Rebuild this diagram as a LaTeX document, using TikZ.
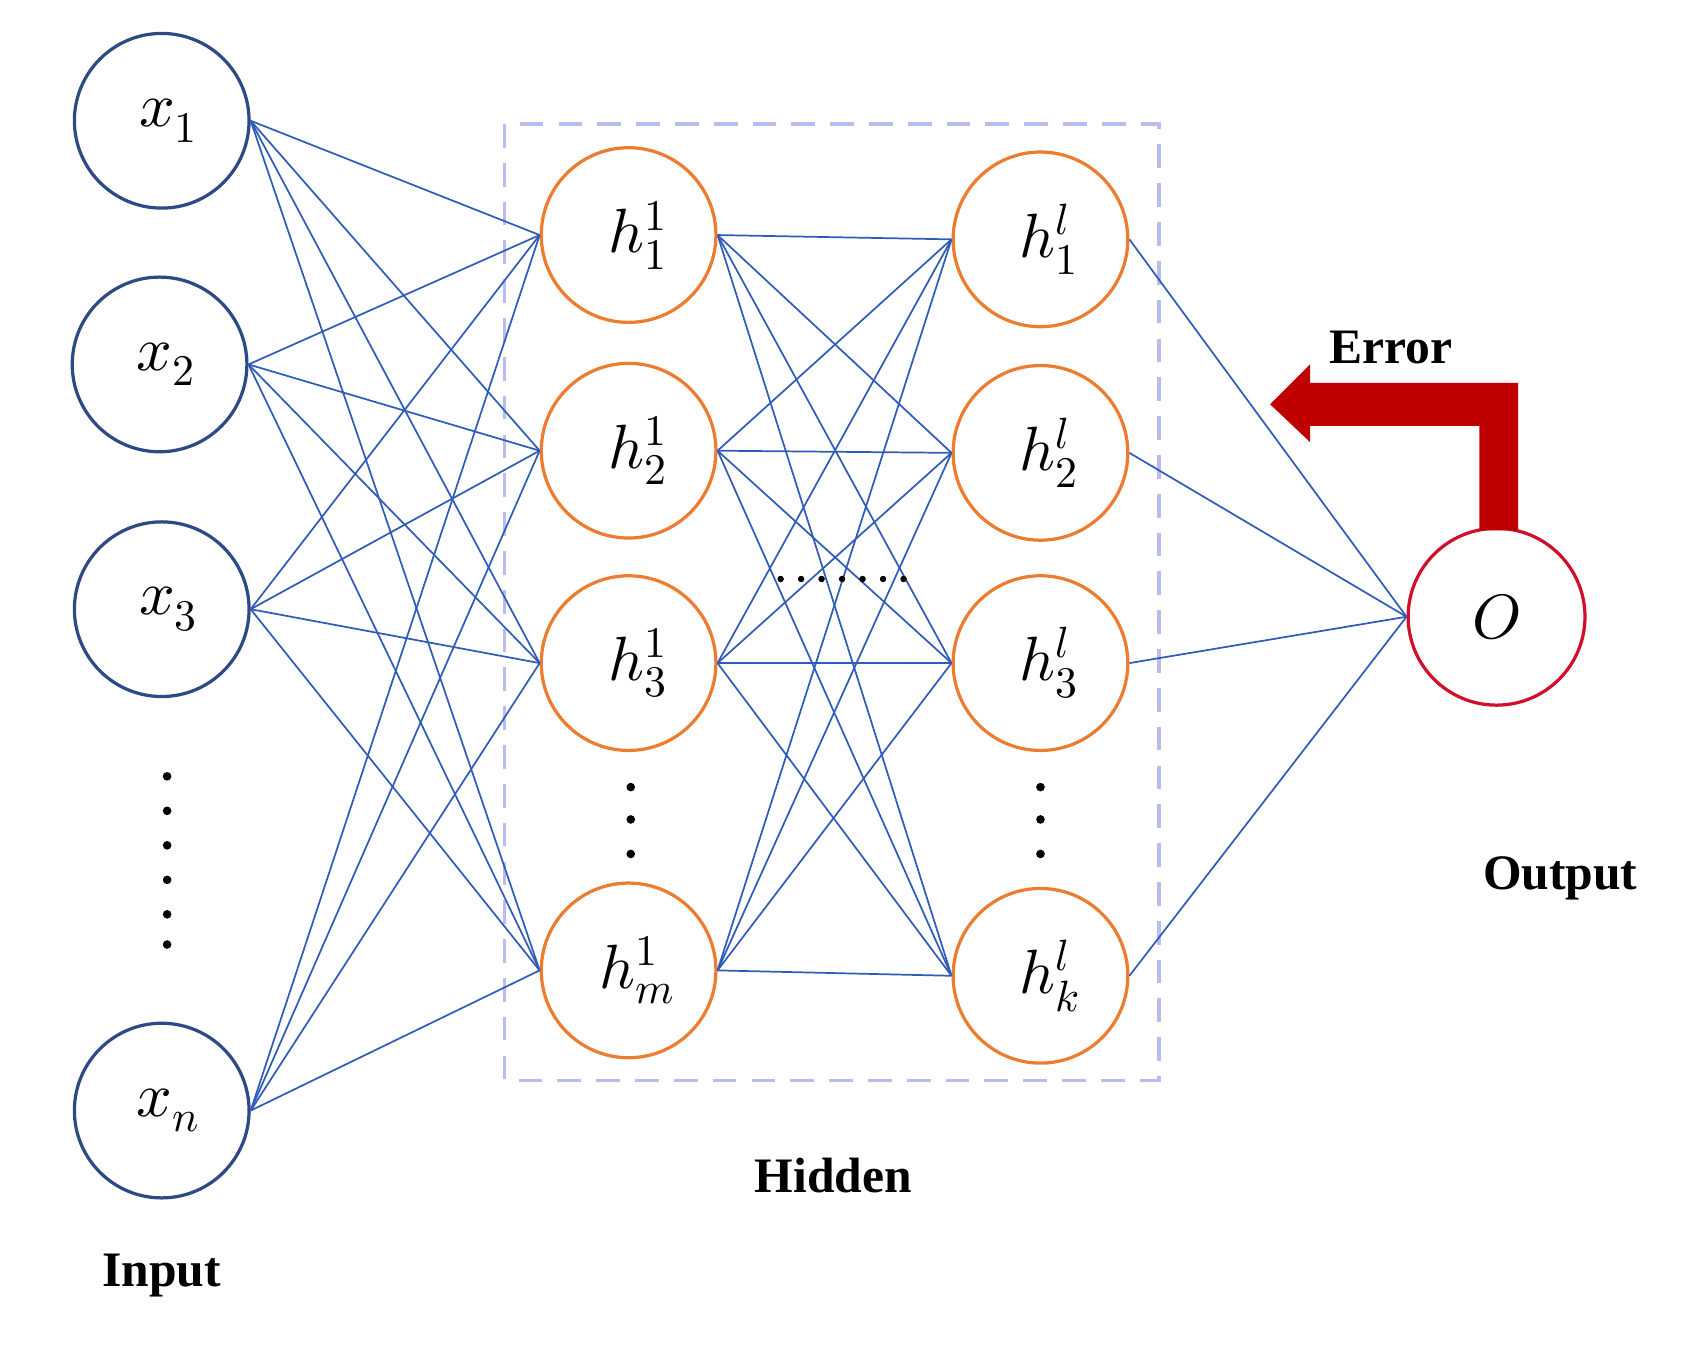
\documentclass[tikz,border=0pt]{standalone}
\usepackage{fontspec}
\usepackage{unicode-math}
\setmainfont{Liberation Serif}
\setmathfont{Latin Modern Math}
\begin{document}
\begin{tikzpicture}[x=1pt,y=-1pt,
  inp/.style={circle,draw=incol,line width=3pt,minimum size=162pt,inner sep=0pt,font=\fontsize{58}{58}\selectfont},
  hid/.style={circle,draw=hidcol,line width=3pt,minimum size=162pt,inner sep=0pt,font=\fontsize{58}{58}\selectfont},
  outn/.style={circle,draw=outcol,line width=3pt,minimum size=164pt,inner sep=0pt,font=\fontsize{58}{58}\selectfont},
  conn/.style={draw=lncol,line width=1.6pt},
  lab/.style={font=\fontsize{46}{46}\selectfont\bfseries},
  dot/.style={circle,fill=black,inner sep=0pt,minimum size=8pt}]
\definecolor{incol}{HTML}{2B4A86}
\definecolor{hidcol}{HTML}{EC7C30}
\definecolor{outcol}{HTML}{D0102A}
\definecolor{lncol}{HTML}{2F5CB8}
\definecolor{boxcol}{HTML}{B8BCF0}
\definecolor{arrcol}{HTML}{C00000}
\useasboundingbox (0,0) rectangle (1560,1256);
\draw[boxcol,line width=3pt,dash pattern=on 22pt off 14pt] (468,115) rectangle (1075,1002);
\node[inp] (x1) at (150,112) {\hspace{12pt}$x_1$};
\node[inp] (x2) at (148,338) {\hspace{12pt}$x_2$};
\node[inp] (x3) at (150,565) {\hspace{12pt}$x_3$};
\node[inp] (xn) at (150,1030) {\hspace{12pt}$x_n$};
\node[hid] (a1) at (583,218) {\hspace{16pt}$h^1_1$};
\node[hid] (a2) at (583,418) {\hspace{16pt}$h^1_2$};
\node[hid] (a3) at (583,615) {\hspace{16pt}$h^1_3$};
\node[hid] (am) at (583,900) {\hspace{16pt}$h^1_m$};
\node[hid] (b1) at (965,222) {\hspace{16pt}$h^l_1$};
\node[hid] (b2) at (965,420) {\hspace{16pt}$h^l_2$};
\node[hid] (b3) at (965,615) {\hspace{16pt}$h^l_3$};
\node[hid] (bk) at (965,905) {\hspace{16pt}$h^l_k$};
\node[outn] (o) at (1388,572) {$O$};
\foreach \i in {x1,x2,x3,xn}{\foreach \j in {a1,a2,a3,am}{\draw[conn] (\i.east) -- (\j.west);}}
\foreach \i in {a1,a2,a3,am}{\foreach \j in {b1,b2,b3,bk}{\draw[conn] (\i.east) -- (\j.west);}}
\foreach \i in {b1,b2,b3,bk}{\draw[conn] (\i.east) -- (o.west);}
\foreach \k [count=\n] in {720,752,784,816,848,876}{\node[dot] (d\n) at (155,\k) {};}
\foreach \k [count=\n] in {730,760,792}{\node[dot] (e\n) at (585,\k) {}; \node[dot] (f\n) at (965,\k) {};}
\foreach \k [count=\n] in {724,743,762,781,800,819,838}{\node[circle,fill=black,inner sep=0pt,minimum size=6pt] (g\n) at (\k,537) {};}
\fill[arrcol] (1372,492) -- (1372,395) -- (1215,395) -- (1215,410) -- (1178,375) -- (1215,338) -- (1215,355) -- (1408,355) -- (1408,492) -- cycle;
\node[lab] (err) at (1290,322) {Error};
\node[lab] (outl) at (1447,815) {Output};
\node[lab] (hidl) at (773,1090) {Hidden};
\node[lab] (inl) at (150,1183) {Input};
\end{tikzpicture}
\end{document}
